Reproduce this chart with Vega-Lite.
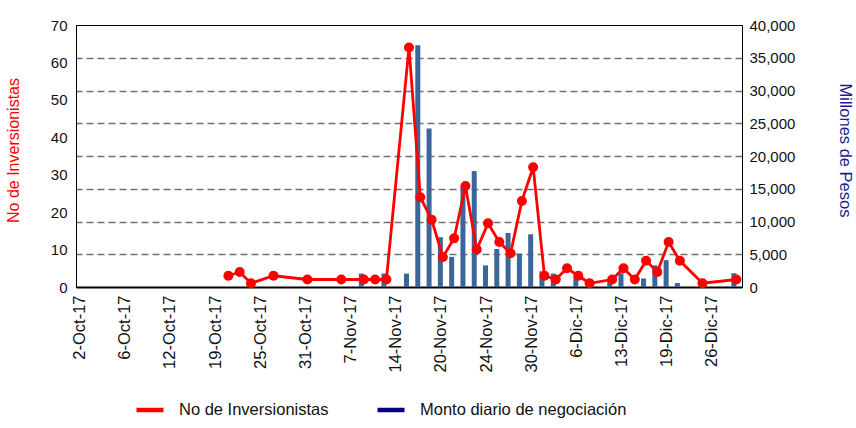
{
  "$schema": "https://vega.github.io/schema/vega-lite/v6.json",
  "autosize": {"type": "none"},
  "width": 666,
  "height": 262,
  "padding": {"left": 76, "top": 25, "right": 114, "bottom": 141},
  "background": "white",
  "config": {
    "font": "Liberation Sans",
    "view": {"stroke": "black", "strokeWidth": 1},
    "axis": {"labelFont": "Liberation Sans", "titleFont": "Liberation Sans", "labelColor": "#111", "domainColor": "black"}
  },
  "datasets": {
    "inv": [
      {"fecha": "20-Oct-17", "inversionistas": 3, "serie": "No de Inversionistas"},
      {"fecha": "23-Oct-17", "inversionistas": 4, "serie": "No de Inversionistas"},
      {"fecha": "24-Oct-17", "inversionistas": 1, "serie": "No de Inversionistas"},
      {"fecha": "26-Oct-17", "inversionistas": 3, "serie": "No de Inversionistas"},
      {"fecha": "31-Oct-17", "inversionistas": 2, "serie": "No de Inversionistas"},
      {"fecha": "6-Nov-17", "inversionistas": 2, "serie": "No de Inversionistas"},
      {"fecha": "8-Nov-17", "inversionistas": 2, "serie": "No de Inversionistas"},
      {"fecha": "9-Nov-17", "inversionistas": 2, "serie": "No de Inversionistas"},
      {"fecha": "10-Nov-17", "inversionistas": 2, "serie": "No de Inversionistas"},
      {"fecha": "15-Nov-17", "inversionistas": 64, "serie": "No de Inversionistas"},
      {"fecha": "16-Nov-17", "inversionistas": 24, "serie": "No de Inversionistas"},
      {"fecha": "17-Nov-17", "inversionistas": 18, "serie": "No de Inversionistas"},
      {"fecha": "20-Nov-17", "inversionistas": 8, "serie": "No de Inversionistas"},
      {"fecha": "21-Nov-17", "inversionistas": 13, "serie": "No de Inversionistas"},
      {"fecha": "22-Nov-17", "inversionistas": 27, "serie": "No de Inversionistas"},
      {"fecha": "23-Nov-17", "inversionistas": 10, "serie": "No de Inversionistas"},
      {"fecha": "24-Nov-17", "inversionistas": 17, "serie": "No de Inversionistas"},
      {"fecha": "27-Nov-17", "inversionistas": 12, "serie": "No de Inversionistas"},
      {"fecha": "28-Nov-17", "inversionistas": 9, "serie": "No de Inversionistas"},
      {"fecha": "29-Nov-17", "inversionistas": 23, "serie": "No de Inversionistas"},
      {"fecha": "30-Nov-17", "inversionistas": 32, "serie": "No de Inversionistas"},
      {"fecha": "1-Dic-17", "inversionistas": 3, "serie": "No de Inversionistas"},
      {"fecha": "4-Dic-17", "inversionistas": 2, "serie": "No de Inversionistas"},
      {"fecha": "5-Dic-17", "inversionistas": 5, "serie": "No de Inversionistas"},
      {"fecha": "6-Dic-17", "inversionistas": 3, "serie": "No de Inversionistas"},
      {"fecha": "7-Dic-17", "inversionistas": 1, "serie": "No de Inversionistas"},
      {"fecha": "11-Dic-17", "inversionistas": 2, "serie": "No de Inversionistas"},
      {"fecha": "13-Dic-17", "inversionistas": 5, "serie": "No de Inversionistas"},
      {"fecha": "14-Dic-17", "inversionistas": 2, "serie": "No de Inversionistas"},
      {"fecha": "15-Dic-17", "inversionistas": 7, "serie": "No de Inversionistas"},
      {"fecha": "18-Dic-17", "inversionistas": 4, "serie": "No de Inversionistas"},
      {"fecha": "19-Dic-17", "inversionistas": 12, "serie": "No de Inversionistas"},
      {"fecha": "20-Dic-17", "inversionistas": 7, "serie": "No de Inversionistas"},
      {"fecha": "22-Dic-17", "inversionistas": 1, "serie": "No de Inversionistas"},
      {"fecha": "28-Dic-17", "inversionistas": 2, "serie": "No de Inversionistas"}
    ],
    "monto": [
      {"fecha": "8-Nov-17", "monto": 2050},
      {"fecha": "10-Nov-17", "monto": 2050},
      {"fecha": "15-Nov-17", "monto": 2050},
      {"fecha": "16-Nov-17", "monto": 36900},
      {"fecha": "17-Nov-17", "monto": 24200},
      {"fecha": "20-Nov-17", "monto": 7600},
      {"fecha": "21-Nov-17", "monto": 4600},
      {"fecha": "22-Nov-17", "monto": 15300},
      {"fecha": "23-Nov-17", "monto": 17700},
      {"fecha": "24-Nov-17", "monto": 3300},
      {"fecha": "27-Nov-17", "monto": 5800},
      {"fecha": "28-Nov-17", "monto": 8250},
      {"fecha": "29-Nov-17", "monto": 5100},
      {"fecha": "30-Nov-17", "monto": 8050},
      {"fecha": "1-Dic-17", "monto": 2400},
      {"fecha": "4-Dic-17", "monto": 2050},
      {"fecha": "6-Dic-17", "monto": 1500},
      {"fecha": "11-Dic-17", "monto": 1100},
      {"fecha": "13-Dic-17", "monto": 2100},
      {"fecha": "15-Dic-17", "monto": 1300},
      {"fecha": "18-Dic-17", "monto": 3300},
      {"fecha": "19-Dic-17", "monto": 4100},
      {"fecha": "20-Dic-17", "monto": 600},
      {"fecha": "28-Dic-17", "monto": 2100}
    ]
  },
  "encoding": {
    "x": {
      "field": "fecha",
      "type": "ordinal",
      "sort": null,
      "scale": {
        "type": "band",
        "paddingInner": 0,
        "paddingOuter": 0,
        "domain": ["2-Oct-17","3-Oct-17","4-Oct-17","5-Oct-17","6-Oct-17","9-Oct-17","10-Oct-17","11-Oct-17","12-Oct-17","13-Oct-17","16-Oct-17","17-Oct-17","19-Oct-17","20-Oct-17","23-Oct-17","24-Oct-17","25-Oct-17","26-Oct-17","27-Oct-17","30-Oct-17","31-Oct-17","1-Nov-17","3-Nov-17","6-Nov-17","7-Nov-17","8-Nov-17","9-Nov-17","10-Nov-17","14-Nov-17","15-Nov-17","16-Nov-17","17-Nov-17","20-Nov-17","21-Nov-17","22-Nov-17","23-Nov-17","24-Nov-17","27-Nov-17","28-Nov-17","29-Nov-17","30-Nov-17","1-Dic-17","4-Dic-17","5-Dic-17","6-Dic-17","7-Dic-17","8-Dic-17","11-Dic-17","13-Dic-17","14-Dic-17","15-Dic-17","18-Dic-17","19-Dic-17","20-Dic-17","21-Dic-17","22-Dic-17","26-Dic-17","27-Dic-17","28-Dic-17"]
      },
      "axis": {
        "title": null,
        "values": ["2-Oct-17","6-Oct-17","12-Oct-17","19-Oct-17","25-Oct-17","31-Oct-17","7-Nov-17","14-Nov-17","20-Nov-17","24-Nov-17","30-Nov-17","6-Dic-17","13-Dic-17","19-Dic-17","26-Dic-17"],
        "labelAngle": -90,
        "labelAlign": "right",
        "labelBaseline": "middle",
        "labelPadding": 8,
        "labelFontSize": 16.5,
        "labelOverlap": false,
        "labelOffset": -1.5,
        "ticks": false,
        "domainWidth": 2,
        "grid": false
      }
    }
  },
  "layer": [
    {
      "data": {"name": "monto"},
      "mark": {"type": "bar", "width": 5, "xOffset": -2.5, "color": "#3A6699"},
      "encoding": {
        "y": {
          "field": "monto",
          "type": "quantitative",
          "scale": {"domain": [0, 40000], "nice": false},
          "axis": {
            "orient": "right",
            "title": "Millones de Pesos",
            "titleColor": "#1c1c8c",
            "titleFontSize": 16.5,
            "titleFontWeight": "normal",
            "titleAngle": 90,
            "titleBaseline": "middle",
            "titleX": 102,
            "titleY": 125,
            "values": [0, 5000, 10000, 15000, 20000, 25000, 30000, 35000, 40000],
            "format": ",.0f",
            "labelFontSize": 15,
            "labelPadding": 7,
            "ticks": false,
            "grid": true,
            "gridColor": "#707070",
            "gridDash": [7, 4],
            "gridWidth": 1.3,
            "gridOpacity": {"condition": {"test": "datum.value === 0 || datum.value === 40000", "value": 0}, "value": 1}
          }
        }
      }
    },
    {
      "data": {"name": "inv"},
      "encoding": {
        "y": {
          "field": "inversionistas",
          "type": "quantitative",
          "scale": {"domain": [0, 70], "nice": false},
          "axis": {
            "orient": "left",
            "title": "No de Inversionistas",
            "titleColor": "#FF0000",
            "titleFontSize": 16,
            "titleFontWeight": "normal",
            "titleAngle": -90,
            "titleBaseline": "middle",
            "titleX": -63,
            "titleY": 125,
            "values": [0, 10, 20, 30, 40, 50, 60, 70],
            "labelFontSize": 15,
            "labelPadding": 9,
            "ticks": false,
            "grid": false
          }
        }
      },
      "layer": [
        {
          "mark": {"type": "line", "strokeWidth": 2.8, "color": "#FF0000"},
          "encoding": {
            "color": {
              "field": "serie",
              "type": "nominal",
              "scale": {"domain": ["No de Inversionistas", "Monto diario de negociación"], "range": ["#FF0000", "#000080"]},
              "legend": {
                "title": null,
                "orient": "none",
                "direction": "horizontal",
                "legendX": 58,
                "legendY": 369,
                "symbolType": "stroke",
                "symbolSize": 729,
                "symbolStrokeWidth": 4.5,
                "labelFont": "Liberation Sans",
                "labelFontSize": 16.5,
                "labelColor": "#111",
                "labelOffset": 13,
                "labelLimit": 400,
                "columnPadding": 39
              }
            }
          }
        },
        {
          "mark": {"type": "circle", "size": 100, "opacity": 1, "color": "#FF0000"}
        }
      ]
    }
  ],
  "resolve": {"scale": {"y": "independent"}}
}
